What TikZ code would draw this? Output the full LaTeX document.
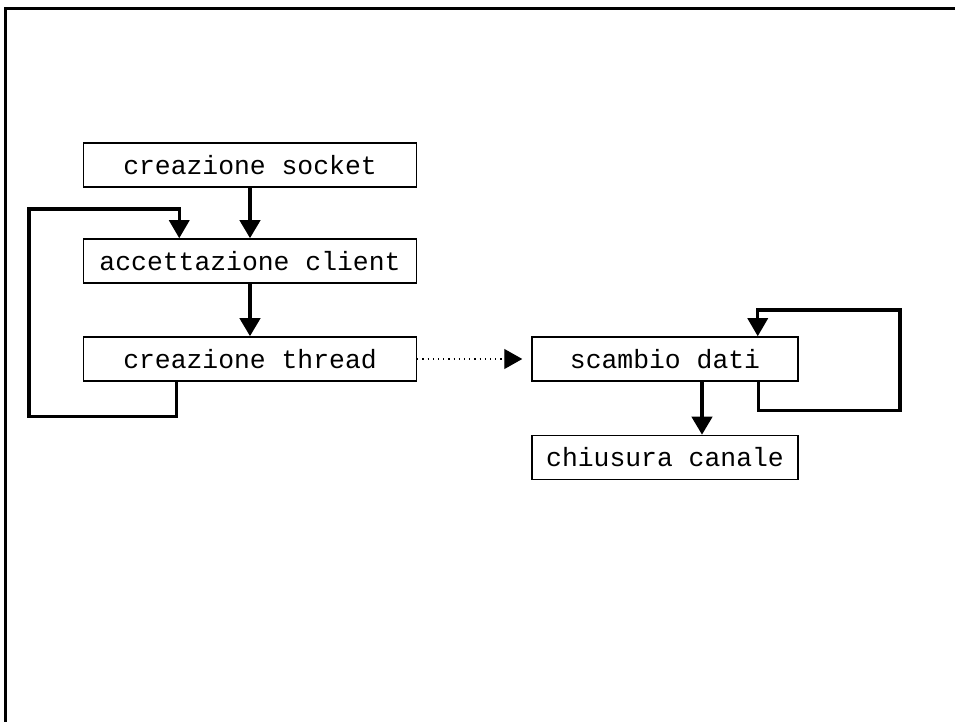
\documentclass[tikz,border=0pt]{standalone}
\usepackage{fontspec}
\setmonofont{Liberation Mono}
\usetikzlibrary{arrows.meta,positioning}

\begin{document}
\begin{tikzpicture}[x=0.5pt,y=-0.5pt,node distance=48pt,
                box/.style={draw,line width=0.75pt,minimum width=166.5pt,minimum height=22pt,
                            inner sep=0pt,font=\ttfamily\fontsize{13.2}{16}\selectfont},
                small box/.style={box,minimum width=133pt},
                flow/.style={line width=2pt,-{Triangle[length=9pt,width=10pt]}},
                back/.style={line width=1.6pt,-{Triangle[length=9pt,width=10pt]}},
                spawn/.style={line width=0.6pt,dotted,shorten >=4.5pt,-{Triangle[length=9pt,width=10pt]}}]

      \useasboundingbox (0,0) rectangle (955,722);
      \draw[line width=1.5pt] (5.5,722) -- (5.5,8.5) -- (955,8.5);

      \node[box] (S1) at (250,165) {creazione socket};
      \node[box] (S2) [below of=S1] {accettazione client};
      \node[box] (S3) [below of=S2, node distance=49pt] {creazione thread};
      \node[small box] (T1) [right of=S3, node distance=207.5pt] {scambio dati};
      \node[small box] (T2) [below of=T1, node distance=49.25pt] {chiusura canale};
      \coordinate (L) at (29,209);
      \coordinate (R) at (900,310);

      \draw[flow] (S1) -- (S2);
      \draw[flow] (S2) -- (S3);
      \draw[spawn] (S3) -- (T1);
      \draw[flow] ([xshift=18.5pt]T1.south) -- ([xshift=18.5pt]T2.north);
      \draw[back] ([xshift=46.75pt]S3.south west) -- ++(0,35) -| (L) -| ([xshift=48.25pt]S2.north west);
      \draw[back] ([xshift=-20pt]T1.south east) -- ++(0,29) -| (R) -| ([xshift=-20.5pt]T1.north east);
\end{tikzpicture}
\end{document}
